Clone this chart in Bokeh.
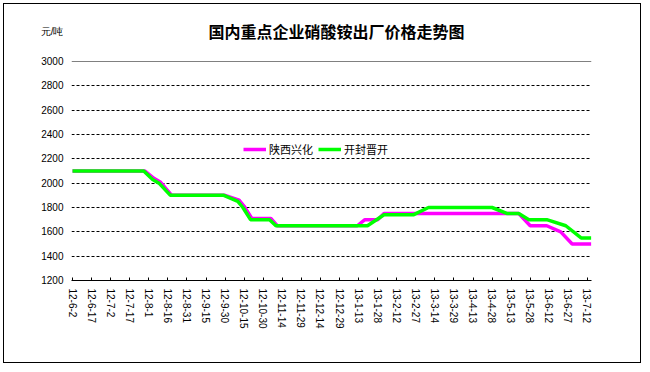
from bokeh.plotting import figure
from bokeh.models import FixedTicker, Legend, LegendItem, Label, Range1d, ColumnDataSource, Grid
from bokeh.embed import file_html
from bokeh.resources import INLINE
import pandas as pd

BASE = pd.Timestamp("2012-06-02")

title_text = "国内重点企业硝酸铵出厂价格走势图"
unit_text = "元/吨"
series_names = ["陕西兴化", "开封晋开"]

tick_labels = ["12-6-2", "12-6-17", "12-7-2", "12-7-17", "12-8-1", "12-8-16", "12-8-31",
               "12-9-15", "12-9-30", "12-10-15", "12-10-30", "12-11-14", "12-11-29",
               "12-12-14", "12-12-29", "13-1-13", "13-1-28", "13-2-12", "13-2-27",
               "13-3-14", "13-3-29", "13-4-13", "13-4-28", "13-5-13", "13-5-28",
               "13-6-12", "13-6-27", "13-7-12"]

y_ticks = [1200, 1400, 1600, 1800, 2000, 2200, 2400, 2600, 2800, 3000]

# 陕西兴化
sx_dates = ["2012-06-02", "2012-07-29", "2012-08-05", "2012-08-10", "2012-08-19",
            "2012-09-30", "2012-10-11", "2012-10-15", "2012-10-21", "2012-11-05",
            "2012-11-10", "2013-01-12", "2013-01-18", "2013-01-28", "2013-02-02",
            "2013-05-19", "2013-05-28", "2013-06-10", "2013-06-21", "2013-06-30",
            "2013-07-15"]
sx_values = [2100, 2100, 2040, 2010, 1900,
             1900, 1860, 1810, 1710, 1710,
             1650, 1650, 1700, 1700, 1750,
             1750, 1650, 1650, 1600, 1500,
             1500]

# 开封晋开
kf_dates = ["2012-06-02", "2012-07-28", "2012-08-04", "2012-08-09", "2012-08-18",
            "2012-09-29", "2012-10-10", "2012-10-14", "2012-10-20", "2012-11-04",
            "2012-11-09", "2013-01-20", "2013-02-02", "2013-02-25", "2013-03-09",
            "2013-04-28", "2013-05-10", "2013-05-19", "2013-05-27", "2013-06-10",
            "2013-06-25", "2013-07-07", "2013-07-15"]
kf_values = [2100, 2100, 2030, 2000, 1900,
             1900, 1850, 1800, 1700, 1700,
             1650, 1650, 1740, 1740, 1800,
             1800, 1750, 1750, 1700, 1700,
             1650, 1550, 1550]

# plot-area extent (days from 2012-06-02) and the space kept above it for the titles
X_START, X_END = -0.8, 408.2
VIEW_Y_END = 3468.5
TITLE_Y = 3247
TITLE_X = 207.6


def day(s):
    return (pd.Timestamp(s) - BASE).days


def label_day(lbl):
    y, m, d = lbl.split("-")
    return (pd.Timestamp(year=2000 + int(y), month=int(m), day=int(d)) - BASE).days


tick_pos = [label_day(t) for t in tick_labels]

p = figure(width=638, height=360, output_backend="svg", toolbar_location=None,
           x_range=Range1d(X_START, X_END), y_range=Range1d(y_ticks[0], VIEW_Y_END),
           min_border_left=67, min_border_right=51, min_border_top=0, min_border_bottom=84,
           background_fill_color="white", border_fill_color="white")
p.styles = {"margin": "3px", "border": "1px solid black"}
p.outline_line_color = None

src_sx = ColumnDataSource(dict(x=[day(d) for d in sx_dates], y=sx_values))
src_kf = ColumnDataSource(dict(x=[day(d) for d in kf_dates], y=kf_values))
r1 = p.line("x", "y", source=src_sx, line_color="#FF00FF", line_width=3.5)
r2 = p.line("x", "y", source=src_kf, line_color="#00FF00", line_width=3.5)

# x axis
p.xaxis.ticker = FixedTicker(ticks=tick_pos)
p.xaxis.major_label_overrides = {tp: t for tp, t in zip(tick_pos, tick_labels)}
p.xaxis.major_label_orientation = "vertical"
p.xaxis.major_tick_in = 3
p.xaxis.major_tick_out = 0
p.xaxis.minor_tick_line_color = None
p.xaxis.axis_line_color = "black"
p.xaxis.major_tick_line_color = "black"
p.xaxis.major_label_text_font = "Liberation Sans"
p.xaxis.major_label_text_font_size = "10px"
p.xaxis.major_label_text_color = "black"
p.xaxis.major_label_standoff = 8

# y axis: value ticks plus the unit caption at the top
p.yaxis.ticker = FixedTicker(ticks=y_ticks + [TITLE_Y])
p.yaxis.major_label_overrides = {TITLE_Y: unit_text}
p.yaxis.axis_line_color = None
p.yaxis.major_tick_in = 0
p.yaxis.major_tick_out = 0
p.yaxis.minor_tick_line_color = None
p.yaxis.major_label_text_font = "Liberation Sans"
p.yaxis.major_label_text_font_size = "10px"
p.yaxis.major_label_text_color = "black"
p.yaxis.major_label_standoff = 8

p.xgrid.grid_line_color = None
p.ygrid.ticker = FixedTicker(ticks=y_ticks[1:-1])
p.ygrid.grid_line_color = "black"
p.ygrid.grid_line_dash = "3 2"
p.ygrid.grid_line_width = 1

# left (black) and grey top / right edges of the plot area
p.add_layout(Grid(dimension=0, ticker=FixedTicker(ticks=[X_START]), bounds=(y_ticks[0], y_ticks[-1]),
                  grid_line_color="black", grid_line_width=1))
p.add_layout(Grid(dimension=1, ticker=FixedTicker(ticks=[y_ticks[-1]]),
                  grid_line_color="#808080", grid_line_width=1))
p.add_layout(Grid(dimension=0, ticker=FixedTicker(ticks=[X_END]), bounds=(y_ticks[0], y_ticks[-1]),
                  grid_line_color="#808080", grid_line_width=1))

legend = Legend(items=[LegendItem(label=series_names[0], renderers=[r1]),
                       LegendItem(label=series_names[1], renderers=[r2])],
                location=(172, 123), orientation="horizontal",
                background_fill_color="white", background_fill_alpha=1.0,
                border_line_color=None, padding=4, margin=0, spacing=5,
                glyph_width=23, glyph_height=14, label_height=14, label_standoff=3,
                label_text_font="Noto Sans CJK SC", label_text_font_size="11px",
                label_text_color="black")
p.add_layout(legend, "center")

p.add_layout(Label(x=TITLE_X, y=TITLE_Y, text=title_text,
                   text_align="center", text_baseline="middle", text_font="Noto Sans CJK SC",
                   text_font_size="16px", text_font_style="bold", text_color="black"))

open("out.html", "w").write(file_html(p, INLINE))
